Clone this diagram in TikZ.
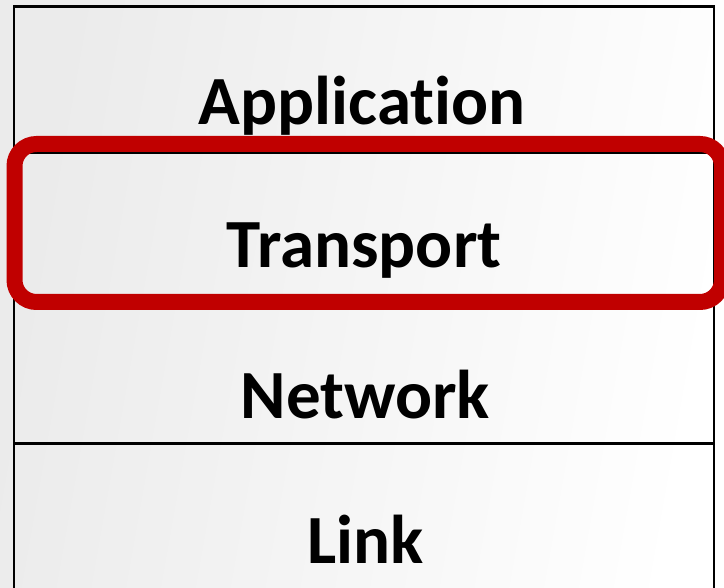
\documentclass[tikz,border=0pt]{standalone}
\usepackage{fontspec}
\setmainfont{Carlito}[Ligatures=NoCommon]
\definecolor{hlred}{RGB}{192,0,0}
\tikzset{
  layerbox/.style={draw=black, line width=2.8pt, minimum width=700pt, minimum height=145.7pt, inner sep=0pt, outer sep=0pt},
  layertext/.style={anchor=base, inner sep=0pt, font=\fontsize{69}{80}\selectfont\bfseries},
  highlight/.style={draw=hlred, line width=16pt, rounded corners=22pt}
}
\begin{document}
\begin{tikzpicture}[x=1pt,y=-1pt]
\useasboundingbox (0,0) rectangle (724,588);
\clip (0,0) rectangle (724,588);
\shade[left color=black!8, right color=white, shading angle=80] (0,0) rectangle (724,588);
% layers
\node[layerbox] (appbox) at (364,79.6) {};
\node[layerbox] (trbox) at (364,225.3) {};
\node[layerbox] (netbox) at (364,371) {};
\node[layerbox] (linkbox) at (364,516.7) {};
% labels
\node[layertext] (app) at (362,125) {Application};
\node[layertext] (tr) at (364,268) {Transport};
\node[layertext] (net) at (365.5,419) {Network};
\node[layertext] (link) at (365.5,563) {Link};
% highlight
\draw[highlight] (14.5,144) rectangle (722,302);
\end{tikzpicture}
\end{document}
